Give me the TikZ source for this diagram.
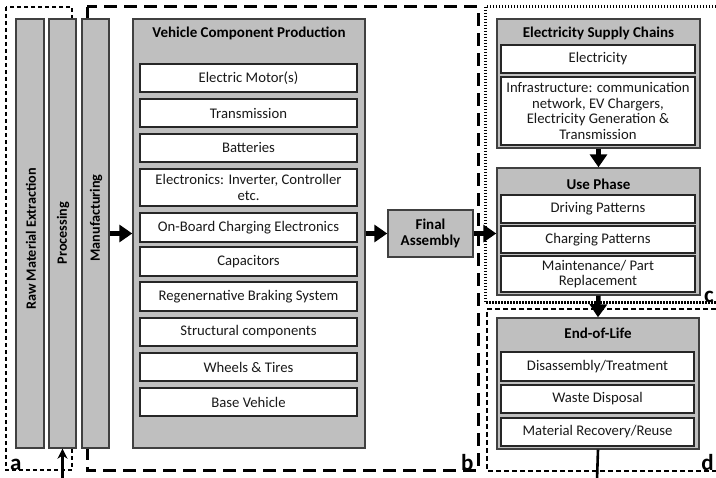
\documentclass[tikz,border=0pt]{standalone}
\usepackage{fontspec}
\setmainfont{Carlito}
\usetikzlibrary{arrows.meta}
\tikzset{
  x=1pt, y=-1pt,
  graybox/.style={draw=black!75, fill=black!25, line width=1.4pt, inner sep=0pt},
  whitebox/.style={draw=black!85, fill=white, line width=1.4pt, inner sep=0pt, align=center,
     font=\fontsize{14.7}{15.8}\selectfont, text=black!90},
  ttl/.style={font=\bfseries\fontsize{15}{16}\selectfont, align=center, text=black},
  vlabel/.style={font=\bfseries\fontsize{14.2}{15}\selectfont, rotate=90, text=black},
  bigarrow/.style={-{Triangle[length=13pt,width=17pt]}, line width=4.5pt},
  regionletter/.style={font=\bfseries\fontsize{23}{23}\selectfont, inner sep=0pt},
  rega/.style={line width=2.6pt, dash pattern=on 4pt off 3pt},
  regb/.style={line width=3pt, dash pattern=on 13pt off 7pt},
  regc/.style={line width=3pt, dash pattern=on 1.5pt off 1.5pt},
  regd/.style={line width=2.6pt, dash pattern=on 5pt off 3pt},
}
\begin{document}
\begin{tikzpicture}
\useasboundingbox[fill=white] (0,0) rectangle (716,478);
% regions
\draw[rega] (6,7) rectangle (72,470);
\draw[regb] (87,7) rectangle (478,471);
\draw[regc] (740,7) -- (485,7) -- (485,303) -- (740,303);
\draw[regd] (740,309) -- (487,309) -- (487,471) -- (740,471);
% bars
\node[graybox, minimum width=28pt, minimum height=429pt] (raw) at (30,233.5) {};
\node[graybox, minimum width=27pt, minimum height=429pt] (proc) at (62.5,233.5) {};
\node[graybox, minimum width=27pt, minimum height=429pt] (manu) at (95.5,233.5) {};
\node[vlabel] (rawt) at (31,239) {Raw Material Extraction};
\node[vlabel] (proct) at (63,233) {Processing};
\node[vlabel] (manut) at (96,218) {Manufacturing};
% vehicle component production
\node[graybox, minimum width=232pt, minimum height=429pt] (vcp) at (249,233.5) {};
\node[ttl] (vcpt) at (249,33) {Vehicle Component Production};
\foreach \n/\y/\h/\t in {
  em/78/28/{Electric Motor(s)},
  tr/113/28/{Transmission},
  ba/148/28/{Batteries},
  el/187.5/37/{Electronics: Inverter, Controller\\etc.},
  ob/227.5/29/{On-Board Charging Electronics},
  ca/261.5/29/{Capacitors},
  re/296.5/29/{Regenernative Braking System},
  st/332/28/{Structural components},
  wh/367/28/{Wheels \& Tires},
  bv/402/28/{Base Vehicle}}
  \node[whitebox, minimum width=217pt, minimum height=\h pt] (\n) at (248.5,\y) {\t};
% final assembly
\node[graybox, ttl, minimum width=85pt, minimum height=47pt] (fa) at (430.5,233.5) {Final\\Assembly};
% electricity supply chains
\node[graybox, minimum width=203pt, minimum height=129pt] (esc) at (598.5,83.5) {};
\node[ttl] (esct) at (598.5,33) {Electricity Supply Chains};
\node[whitebox, minimum width=194pt, minimum height=28pt] (elec) at (598,59) {Electricity};
\node[whitebox, minimum width=194pt, minimum height=68pt] (infra) at (598,111)
  {Infrastructure: communication\\network, EV Chargers,\\Electricity Generation \&\\Transmission};
% use phase
\node[graybox, minimum width=203pt, minimum height=127pt] (use) at (598.5,231.5) {};
\node[ttl] (uset) at (598.5,184) {Use Phase};
\node[whitebox, minimum width=194pt, minimum height=28pt] (drv) at (598,209) {Driving Patterns};
\node[whitebox, minimum width=194pt, minimum height=27pt] (chg) at (598,239.5) {Charging Patterns};
\node[whitebox, minimum width=194pt, minimum height=36pt] (mnt) at (598,274) {Maintenance/ Part\\Replacement};
% end of life
\node[graybox, minimum width=202pt, minimum height=131pt] (eol) at (598,383.5) {};
\node[ttl] (eolt) at (598,333) {End-of-Life};
\node[whitebox, minimum width=193pt, minimum height=29pt] (dis) at (597.5,366.5) {Disassembly/Treatment};
\node[whitebox, minimum width=193pt, minimum height=28pt] (wst) at (597.5,399) {Waste Disposal};
\node[whitebox, minimum width=193pt, minimum height=28pt] (mat) at (597.5,432) {Material Recovery/Reuse};
% arrows
\draw[bigarrow] (manu.east) -- (vcp.west);
\draw[bigarrow] (vcp.east) -- (fa.west);
\draw[bigarrow] (fa.east) -- (fa.east -| use.west);
\draw[bigarrow] (esc.south) -- (use.north);
\draw[bigarrow] (use.south) -- (eol.north);
\coordinate (fbend) at (597,480);
\coordinate (fbstart) at (62.5,480);
\draw[line width=2.6pt] (eol.south) -- (fbend);
\draw[-{Stealth[length=10pt,width=10pt]}, line width=2.4pt] (fbstart) -- (proc.south);
% region letters
\node[regionletter, anchor=south west] (la) at (10,471) {a};
\node[regionletter, anchor=south west] (lb) at (461,471) {b};
\node[regionletter, anchor=south east] (lc) at (714,303) {c};
\node[regionletter, anchor=south east] (ld) at (714,471) {d};
\end{tikzpicture}
\end{document}
